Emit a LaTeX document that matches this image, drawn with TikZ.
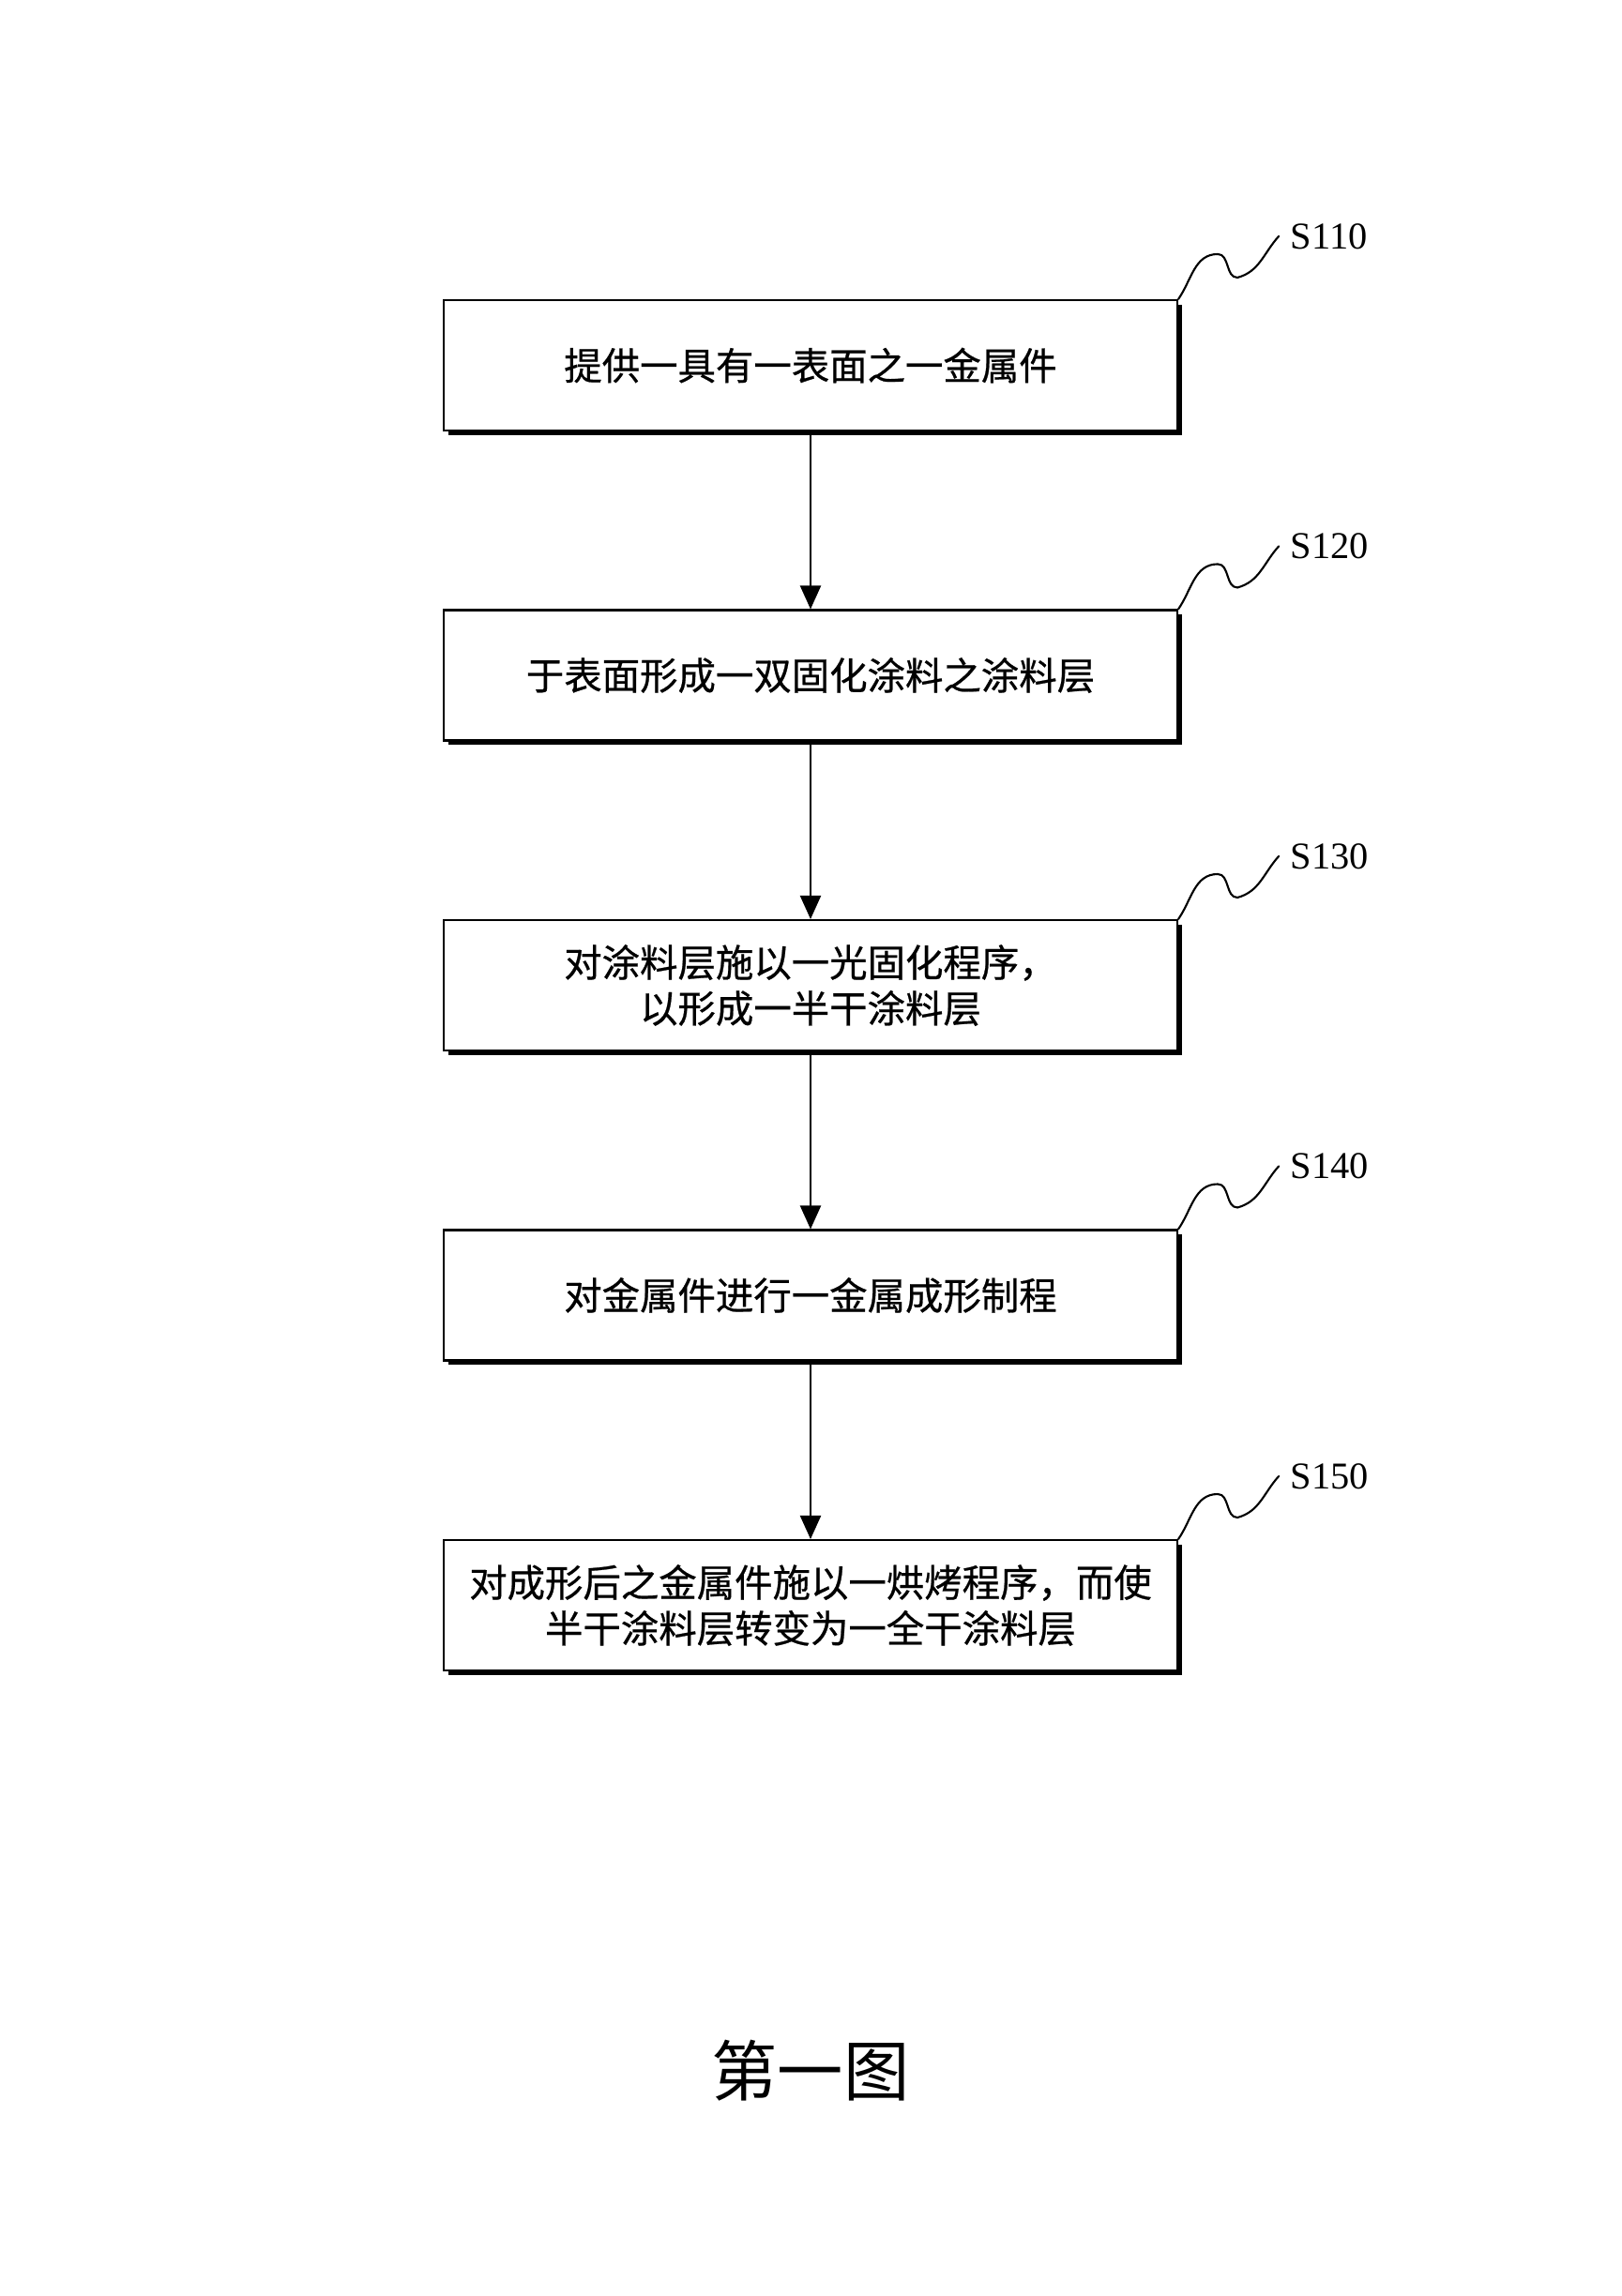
\documentclass[tikz,border=0pt]{standalone}
\usepackage{fontspec}
\setmainfont{Liberation Serif}
\newfontfamily\cjk{Noto Sans CJK SC}
\newfontfamily\cjkthick[FakeBold=0.6]{Noto Sans CJK SC}
\usetikzlibrary{arrows.meta,shadows,positioning}

\begin{document}
\begin{tikzpicture}[>={Triangle[length=0.25cm,width=0.22cm]}, line width=0.6pt, node distance=1.894cm,
	stepbox/.style={draw, fill=white, minimum width=7.82cm, minimum height=1.39cm, align=center,
		font=\cjkthick\fontsize{11.5}{13.9}\selectfont,
		drop shadow={shadow xshift=0.045cm, shadow yshift=-0.045cm, opacity=1, fill=black}}]
	\def\xc{8.64} \def\ytop{-3.895} % tâm hộp đầu
	\useasboundingbox (0,0) rectangle (17.28,-24.48);
	\node[stepbox] (b1) at (\xc,\ytop) {提供一具有一表面之一金属件};
	\node[stepbox, below=of b1] (b2) {于表面形成一双固化涂料之涂料层};
	\node[stepbox, below=of b2] (b3) {对涂料层施以一光固化程序，\\以形成一半干涂料层};
	\node[stepbox, below=of b3] (b4) {对金属件进行一金属成形制程};
	\node[stepbox, below=of b4] (b5) {对成形后之金属件施以一烘烤程序，而使\\半干涂料层转变为一全干涂料层};
	\foreach \i in {1,...,4} {
		\pgfmathtruncatemacro{\j}{\i+1}
		\draw[->] (b\i) -- (b\j);
	}
	\foreach \i in {1,...,5}
		\draw[line cap=round] (b\i.north east) to[out=55,in=180] ++(0.42,0.48) to[out=0,in=180] ++(0.21,-0.25)
			to[out=15,in=228] ++(0.44,0.44) node[right, font=\fontsize{11.5}{14}\selectfont] {S1\i0};
	\node[font=\cjk\fontsize{20}{24}\selectfont] (cap) at (\xc,-22.08) {第一图};
\end{tikzpicture}
\end{document}
